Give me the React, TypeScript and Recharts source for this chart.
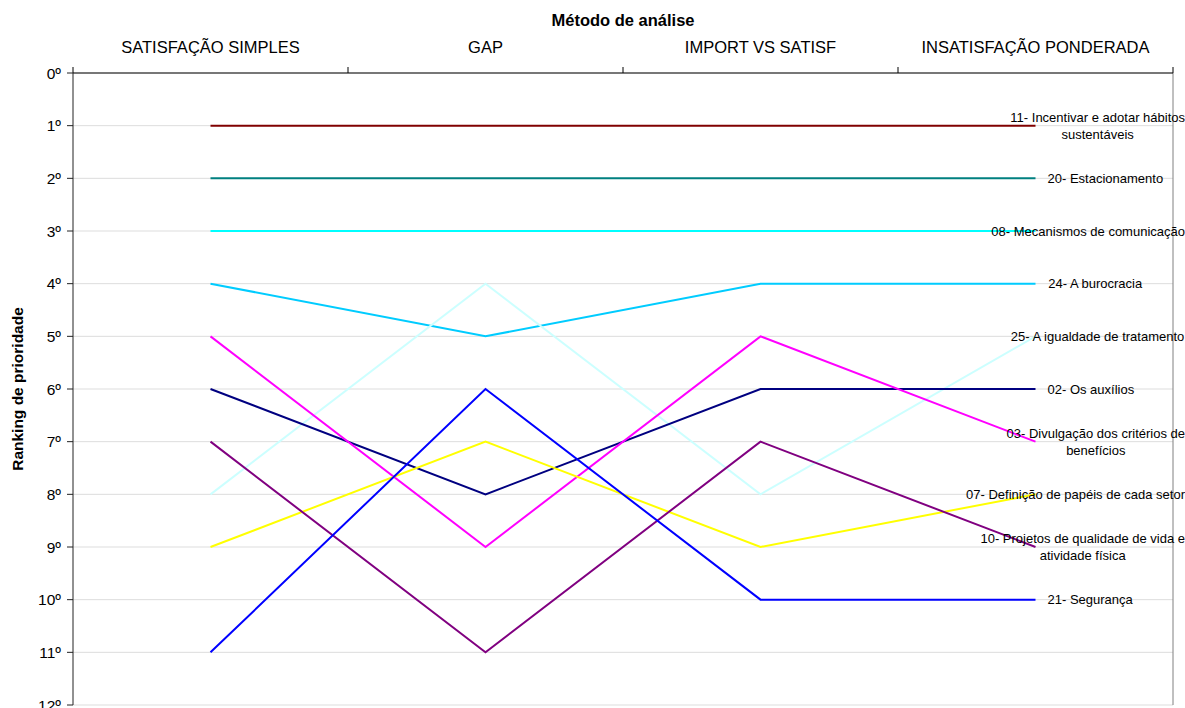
import React from 'react';
import { LineChart, Line, XAxis, YAxis, CartesianGrid, ReferenceLine, LabelList, Label } from 'recharts';

// Analysis methods (columns) and ranking scale
const categories = ['SATISFAÇÃO SIMPLES', 'GAP', 'IMPORT VS SATISF', 'INSATISFAÇÃO PONDERADA'];
const rankTicks = [0, 1, 2, 3, 4, 5, 6, 7, 8, 9, 10, 11, 12];
const boundaryTicks = [0, 1, 2, 3, 4];

// Priority ranking of each item per method
const incentivarHabitos = [1, 1, 1, 1];
const estacionamento = [2, 2, 2, 2];
const mecanismosComunicacao = [3, 3, 3, 3];
const burocracia = [4, 5, 4, 4];
const igualdadeTratamento = [8, 4, 8, 5];
const auxilios = [6, 8, 6, 6];
const divulgacaoCriterios = [5, 9, 5, 7];
const definicaoPapeis = [9, 7, 9, 8];
const projetosQualidade = [7, 11, 7, 9];
const seguranca = [11, 6, 10, 10];

const series = [
  { key: 's11', lines: ['11- Incentivar e adotar hábitos', 'sustentáveis'], values: incentivarHabitos, color: '#800000' },
  { key: 's20', lines: ['20- Estacionamento'], values: estacionamento, color: '#008080' },
  { key: 's08', lines: ['08- Mecanismos de comunicação'], values: mecanismosComunicacao, color: '#00FFFF' },
  { key: 's24', lines: ['24- A burocracia'], values: burocracia, color: '#00CCFF' },
  { key: 's25', lines: ['25- A igualdade de tratamento'], values: igualdadeTratamento, color: '#CCFFFF' },
  { key: 's02', lines: ['02- Os auxílios'], values: auxilios, color: '#000080' },
  { key: 's03', lines: ['03- Divulgação dos critérios de', 'benefícios'], values: divulgacaoCriterios, color: '#FF00FF' },
  { key: 's07', lines: ['07- Definição de papéis de cada setor'], values: definicaoPapeis, color: '#FFFF00' },
  { key: 's10', lines: ['10- Projetos de qualidade de vida e', 'atividade física'], values: projetosQualidade, color: '#800080' },
  { key: 's21', lines: ['21- Segurança'], values: seguranca, color: '#0000FF' },
];

const data = categories.map((name, i) => {
  const row: Record<string, number | string> = { name, pos: i + 0.5 };
  series.forEach((s) => {
    row[s.key] = s.values[i];
  });
  return row;
});

// Layout
const W = 1185;
const H = 708;
const MARGIN = { top: 33, right: 12, bottom: 3, left: 0 };
const Y_AXIS_W = 73;
const X_AXIS_H = 40;
const PLOT_W = W - MARGIN.left - MARGIN.right - Y_AXIS_W;
const BAND_HALF = PLOT_W / categories.length / 2;
const FONT = '"Liberation Sans", Arial, sans-serif';
const LABEL_SIZE = 13;
const LINE_GAP = 17;

let measureCtx: CanvasRenderingContext2D | null = null;
function textWidth(t: string): number {
  if (!measureCtx) {
    const c = document.createElement('canvas');
    measureCtx = c.getContext('2d');
  }
  if (!measureCtx) return t.length * 7;
  measureCtx.font = `${LABEL_SIZE}px ${FONT}`;
  return measureCtx.measureText(t).width;
}

function endLabel(lines: string[]) {
  return (props: any) => {
    const { x, y, index } = props;
    if (index !== categories.length - 1) return null;
    const widest = Math.max(...lines.map(textWidth));
    const left = Math.min(x + 12, W - widest);
    const cx = left + widest / 2;
    const startY = y - ((lines.length - 1) * LINE_GAP) / 2;
    return (
      <g>
        {lines.map((ln, i) => (
          <text
            key={i}
            x={cx}
            y={startY + i * LINE_GAP}
            textAnchor="middle"
            dominantBaseline="central"
            fontSize={LABEL_SIZE}
            fontFamily={FONT}
            fill="#000"
          >
            {ln}
          </text>
        ))}
      </g>
    );
  };
}

const CategoryTick = (props: any) => {
  const { x, payload } = props;
  const i = payload.value as number;
  if (i >= categories.length) return null;
  return (
    <text x={x + BAND_HALF} y={53} textAnchor="middle" fontSize={16.5} fontFamily={FONT} fill="#000">
      {categories[i]}
    </text>
  );
};

export default function App() {
  return (
    <div style={{ position: 'absolute', left: 0, top: 0, background: '#fff' }}>
      <LineChart width={W} height={H} data={data} margin={MARGIN}>
        <CartesianGrid horizontal vertical={false} stroke="#dddddd" />
        <XAxis
          dataKey="pos"
          type="number"
          orientation="top"
          domain={[0, 4]}
          ticks={boundaryTicks}
          interval={0}
          height={X_AXIS_H}
          tickSize={6}
          axisLine={{ stroke: '#000' }}
          tickLine={{ stroke: '#000' }}
          tick={<CategoryTick />}
        >
          <Label
            content={() => (
              <text x={623} y={26} textAnchor="middle" fontSize={16.5} fontWeight="bold" fontFamily={FONT} fill="#000">
                Método de análise
              </text>
            )}
          />
        </XAxis>
        <YAxis
          type="number"
          reversed
          domain={[0, 12]}
          ticks={rankTicks}
          interval={0}
          width={Y_AXIS_W}
          tickSize={6}
          tickMargin={6}
          axisLine={{ stroke: '#222' }}
          tickLine={{ stroke: '#222' }}
          tick={{ fontSize: 15.5, fontFamily: FONT, fill: '#000' }}
          tickFormatter={(v: number) => `${v}º`}
        >
          <Label
            content={() => (
              <text
                x={0}
                y={0}
                transform="translate(23, 389) rotate(-90)"
                textAnchor="middle"
                fontSize={15.5}
                fontWeight="bold"
                fontFamily={FONT}
                fill="#000"
              >
                Ranking de prioridade
              </text>
            )}
          />
        </YAxis>
        <ReferenceLine x={4} stroke="#808080" strokeWidth={1} />
        {series.map((s) => (
          <Line
            key={s.key}
            dataKey={s.key}
            stroke={s.color}
            strokeWidth={2}
            dot={false}
            activeDot={false}
            isAnimationActive={false}
          >
            <LabelList dataKey={s.key} content={endLabel(s.lines)} />
          </Line>
        ))}
      </LineChart>
    </div>
  );
}
